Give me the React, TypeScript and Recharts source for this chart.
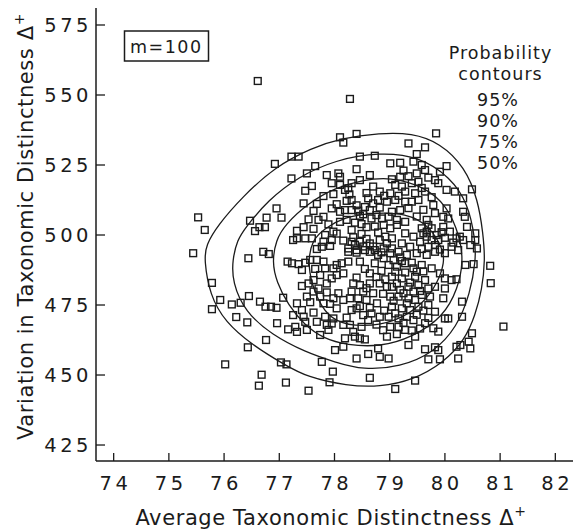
import { ComposedChart, XAxis, YAxis, Scatter, Line } from "recharts"

type Pt = [number, number]

const xTicks = [74, 75, 76, 77, 78, 79, 80, 81, 82]
const yTicks = [425, 450, 475, 500, 525, 550, 575]
const contourLevels = ["95%", "90%", "75%", "50%"]

const upperLeft: Pt[] = [
  [78.16, 533.0], [77.35, 528.0], [77.22, 528.0], [78.46, 528.0], [78.73, 528.3], [77.65, 524.6], [78.40, 523.5], [78.07, 522.0], [78.10, 520.8], [77.22, 520.2],
  [78.64, 521.4], [78.46, 519.6], [78.31, 518.5], [78.25, 516.7], [77.59, 517.5], [78.70, 517.3], [78.19, 516.1], [78.82, 515.5], [77.80, 513.9], [78.31, 512.5],
  [78.22, 512.2], [78.61, 513.1], [78.70, 511.3], [78.79, 512.5], [77.44, 511.3], [77.68, 511.1], [77.95, 509.5], [78.10, 508.3], [78.19, 508.9], [78.31, 508.9],
  [78.43, 508.7], [78.64, 508.9], [78.76, 507.1], [78.67, 505.9], [78.86, 505.9], [77.80, 506.5], [77.71, 505.4], [78.46, 506.8], [78.10, 504.7], [78.22, 505.4],
  [77.53, 505.6], [77.44, 502.8], [78.31, 501.8], [78.58, 502.8], [78.73, 503.0], [78.89, 503.6], [77.32, 501.5], [77.98, 501.2], [77.83, 500.0], [77.32, 498.8],
  [77.47, 498.8], [77.59, 498.8], [77.80, 497.6], [77.95, 498.2], [77.92, 496.1], [77.77, 495.8], [78.31, 497.6], [78.46, 497.6], [78.64, 497.0], [78.82, 498.2],
  [78.92, 499.4], [78.25, 495.2], [78.40, 494.6], [78.55, 494.6], [78.73, 494.6], [78.89, 495.2], [77.25, 498.2],
]

const upperRight: Pt[] = [
  [79.34, 532.7], [79.64, 531.3], [79.49, 528.9], [79.01, 525.6], [79.19, 525.8], [79.43, 526.2], [80.03, 524.6], [79.49, 522.0], [79.64, 523.2], [79.04, 519.9],
  [79.19, 520.8], [79.91, 522.6], [79.82, 519.6], [79.88, 518.5], [79.10, 517.9], [79.40, 518.5], [79.52, 519.0], [80.03, 516.1], [80.18, 515.5], [80.49, 516.3],
  [79.64, 515.5], [79.28, 515.5], [79.46, 514.9], [79.01, 514.9], [80.33, 513.1], [79.79, 510.7], [79.40, 511.9], [79.52, 512.5], [79.28, 511.9], [78.95, 511.9],
  [79.10, 512.5], [80.03, 509.5], [80.33, 508.3], [79.04, 508.3], [79.19, 508.9], [78.98, 506.5], [79.13, 505.4], [79.97, 506.5], [80.06, 505.9], [80.36, 506.5],
  [79.67, 505.4], [79.70, 503.6], [79.28, 504.7], [79.97, 502.9], [80.40, 502.9], [79.01, 502.4], [79.13, 503.6], [79.58, 502.4], [79.67, 501.2], [79.76, 502.4],
  [80.09, 501.2], [79.28, 500.6], [79.43, 499.4], [79.67, 499.4], [79.76, 498.2], [80.55, 500.6], [79.04, 498.8], [79.88, 498.2], [80.21, 498.8], [80.33, 498.2],
  [80.55, 498.2], [79.22, 497.0], [79.37, 495.8], [79.55, 497.6], [79.70, 495.8], [79.82, 496.4], [80.12, 495.8], [80.46, 496.4], [79.04, 495.2], [80.58, 495.2],
]

const lowerLeft: Pt[] = [
  [78.25, 494.0], [78.40, 493.7], [78.64, 494.0], [78.79, 492.9], [77.23, 489.9], [77.35, 489.6], [77.47, 490.1], [77.56, 491.1], [77.68, 491.1], [77.80, 490.5],
  [78.04, 489.3], [78.13, 489.9], [78.25, 490.5], [78.46, 490.5], [78.73, 489.9], [78.89, 491.7], [77.83, 488.1], [77.98, 488.1], [78.16, 486.3], [78.04, 485.7],
  [78.64, 486.3], [77.62, 483.9], [77.53, 482.7], [77.86, 482.7], [77.41, 481.8], [78.34, 482.7], [78.46, 482.1], [78.64, 482.7], [78.82, 482.7], [78.95, 481.5],
  [77.71, 480.9], [77.62, 479.8], [78.07, 479.2], [78.31, 479.8], [78.52, 479.8], [78.70, 479.2], [77.74, 478.0], [77.98, 477.4], [78.16, 476.8], [78.28, 477.4],
  [78.43, 477.4], [78.58, 476.8], [77.32, 475.6], [77.80, 475.6], [77.92, 475.4], [78.77, 475.6], [77.41, 473.2], [77.62, 472.3], [78.31, 473.2], [78.40, 473.8],
  [77.25, 471.4], [77.44, 470.8], [77.83, 470.8], [77.98, 470.2], [78.52, 471.4], [78.67, 472.0], [78.82, 470.8], [77.47, 469.0], [77.29, 467.2], [77.86, 467.9],
  [78.16, 467.9], [78.28, 467.9], [78.49, 467.2], [77.50, 466.1], [77.89, 466.1], [77.74, 464.3], [78.37, 463.7], [78.46, 463.1], [78.55, 462.7], [78.19, 463.1],
  [78.01, 458.9], [78.16, 460.1], [78.79, 459.5], [78.40, 455.9], [78.61, 457.5], [78.82, 456.5], [77.77, 454.7],
]

const lowerRight: Pt[] = [
  [79.01, 493.5], [79.16, 494.0], [79.31, 492.9], [79.49, 493.5], [79.67, 492.9], [79.82, 494.0], [80.00, 493.5], [80.37, 489.3], [80.52, 489.6], [78.98, 489.3],
  [79.13, 488.7], [79.28, 489.9], [79.43, 488.1], [79.58, 489.3], [79.76, 488.1], [79.91, 486.3], [80.00, 484.5], [80.12, 483.9], [80.21, 484.2], [79.04, 485.1],
  [79.22, 484.5], [79.46, 485.1], [79.64, 483.9], [79.04, 481.5], [79.19, 480.4], [79.34, 481.5], [79.52, 482.1], [79.70, 480.9], [79.82, 481.5], [80.00, 480.9],
  [79.01, 478.0], [79.16, 478.0], [79.34, 477.4], [79.58, 478.6], [79.73, 478.0], [79.97, 477.4], [80.31, 476.2], [79.04, 474.4], [79.22, 473.8], [79.37, 473.2],
  [79.52, 474.4], [79.70, 475.0], [80.00, 470.2], [80.06, 470.2], [80.31, 470.8], [78.98, 470.8], [79.16, 470.2], [79.31, 470.8], [79.43, 469.6], [79.64, 468.5],
  [79.79, 466.7], [79.88, 465.5], [79.01, 467.2], [79.16, 467.2], [79.28, 466.1], [80.49, 464.9], [78.95, 463.7], [79.46, 463.7], [79.34, 460.7], [80.21, 460.1],
  [80.43, 461.9], [80.46, 459.5], [80.28, 460.7], [79.64, 459.2], [79.82, 459.9], [79.88, 458.9], [79.70, 455.6], [79.91, 455.6], [80.24, 455.9], [78.98, 455.9],
]

// overlapping squares inside the darkest clumps
const denseCore: Pt[] = [
  [78.37, 496.5], [78.52, 495.9], [78.58, 498.6], [78.70, 495.9], [78.95, 497.0], [78.34, 499.2], [78.49, 500.4], [78.79, 500.9], [78.16, 498.0], [78.85, 493.8],
  [79.07, 491.0], [79.22, 490.7], [79.40, 490.1], [79.10, 486.9], [79.28, 486.6], [79.37, 483.0], [79.13, 482.7], [79.49, 486.9], [79.25, 479.2], [79.43, 479.8],
  [79.55, 480.0], [79.07, 476.5], [79.31, 475.6], [79.46, 476.8], [79.61, 487.0], [79.19, 492.0], [79.85, 500.0], [79.94, 501.0], [79.61, 500.6], [80.00, 499.0],
  [79.91, 494.8], [79.58, 495.0], [80.24, 494.6], [80.15, 497.3], [78.40, 510.6], [78.55, 510.0], [78.52, 507.4], [78.37, 504.4], [78.49, 503.9], [78.82, 509.8],
  [78.58, 515.0], [78.90, 514.0], [78.04, 511.0], [78.27, 514.5], [78.55, 487.9], [78.85, 487.2], [78.40, 484.8], [78.76, 485.0], [78.92, 484.2], [78.58, 481.0],
  [78.88, 479.0], [78.46, 474.6], [78.64, 474.0], [78.90, 473.0], [78.22, 470.5], [78.61, 469.6], [78.76, 468.0], [78.88, 466.0], [78.34, 465.4], [79.25, 523.0],
  [79.58, 525.0], [79.34, 521.0], [79.70, 520.5], [79.22, 517.3], [79.58, 516.8], [79.76, 513.5], [79.34, 509.6], [79.61, 509.0], [79.49, 506.6], [79.82, 507.8],
  [79.16, 514.0], [79.10, 472.0], [79.49, 471.5], [79.61, 473.0], [79.82, 472.6], [79.25, 468.6], [79.55, 466.6], [79.40, 465.9], [79.13, 464.6], [79.70, 470.4],
  [77.41, 487.5], [77.65, 487.9], [77.74, 485.7], [77.95, 484.5], [77.50, 478.0], [77.86, 479.5], [77.56, 476.0], [78.04, 473.8], [77.68, 469.0], [77.95, 468.4],
  [77.50, 522.0], [77.86, 521.4], [77.95, 518.5], [77.47, 515.8], [77.98, 514.6], [77.62, 508.6], [77.89, 503.8], [77.62, 502.2], [78.04, 500.5], [77.68, 495.0],
]

const fringe: Pt[] = [
  [78.10, 534.9], [76.92, 525.4], [75.53, 506.3], [75.65, 501.8], [75.44, 493.5], [76.47, 505.1], [76.77, 506.2], [76.95, 509.5], [77.04, 506.2], [76.64, 502.8],
  [76.74, 502.8], [76.56, 501.4], [76.71, 494.0], [76.81, 493.2], [76.44, 491.7], [78.10, 517.9], [77.15, 490.5], [75.78, 482.9], [75.93, 476.8], [75.78, 473.5],
  [76.14, 475.2], [76.30, 475.8], [76.45, 478.2], [76.65, 476.2], [76.75, 474.4], [76.85, 474.4], [76.95, 474.0], [77.07, 477.6], [76.22, 470.7], [76.42, 468.8],
  [76.96, 468.5], [77.16, 466.3], [76.76, 462.5], [76.43, 459.9], [76.02, 453.8], [77.03, 454.5], [77.13, 453.8], [76.68, 450.1], [76.63, 446.2], [77.12, 447.3],
  [77.32, 465.4], [77.97, 451.2], [77.91, 447.4], [77.53, 444.4], [80.82, 489.0], [80.83, 482.8], [81.06, 467.3], [79.46, 448.0], [79.10, 445.0], [78.64, 449.0],
  [78.40, 536.1], [79.84, 536.3], [78.28, 548.6], [76.61, 555.0], [80.27, 499.4],
]

// probability contours, closed loops (the curve closes itself)
const contour95: Pt[] = [
  [75.64, 491.1], [75.67, 496.4], [75.89, 503.6], [76.33, 513.6], [76.92, 524.3], [77.59, 531.1], [78.13, 534.6], [78.82, 536.4], [79.40, 536.4], [79.91, 532.9],
  [80.36, 524.3], [80.60, 512.5], [80.69, 500.7], [80.73, 491.1], [80.67, 480.4], [80.55, 471.4], [80.36, 462.5], [79.97, 454.3], [79.42, 448.2], [78.82, 445.7],
  [78.23, 446.1], [77.50, 449.3], [77.10, 453.6], [76.51, 460.7], [76.02, 468.9], [75.74, 478.6],
]
const contour90: Pt[] = [
  [76.15, 491.1], [76.24, 498.2], [76.38, 502.5], [76.80, 512.5], [77.34, 520.7], [78.01, 526.8], [78.82, 529.6], [79.55, 527.9], [80.09, 520.7], [80.42, 511.4],
  [80.55, 498.2], [80.56, 491.1], [80.46, 479.3], [80.22, 467.1], [79.79, 457.9], [79.19, 452.9], [78.52, 451.8], [78.01, 454.6], [77.47, 458.2], [76.87, 464.3],
  [76.38, 472.5], [76.15, 483.2],
]
const contour75: Pt[] = [
  [76.87, 490.4], [76.94, 498.2], [77.10, 503.6], [77.52, 511.4], [78.01, 516.8], [78.50, 519.6], [79.01, 520.7], [79.60, 517.5], [80.04, 510.7], [80.28, 498.9],
  [80.33, 490.4], [80.24, 481.1], [79.97, 470.7], [79.42, 463.6], [78.82, 460.0], [78.23, 460.7], [77.80, 463.0], [77.45, 468.0], [77.16, 475.0], [76.95, 483.2],
]
const contour50: Pt[] = [
  [77.52, 490.4], [77.59, 498.2], [77.83, 502.5], [78.19, 506.4], [78.64, 507.9], [79.31, 507.9], [79.73, 503.2], [79.97, 494.6], [79.99, 490.4], [79.88, 483.2],
  [79.59, 475.0], [79.10, 468.9], [78.50, 467.1], [78.01, 468.9], [77.75, 474.5], [77.58, 483.0],
]

const rows = (pts: Pt[]) => pts.map(([x, y]) => ({ x, y }))

const samples = rows([...upperLeft, ...upperRight, ...lowerLeft, ...lowerRight, ...denseCore, ...fringe])
const contours = [contour95, contour90, contour75, contour50].map(rows)

const INK = "#1b1b1b"
const FONT = "'DejaVu Sans', sans-serif"

function Square(props: any) {
  const { cx, cy } = props
  if (cx == null || cy == null) return null
  return (
    <rect x={cx - 3.4} y={cy - 3.4} width={6.8} height={6.8} fill="none" stroke={INK} strokeWidth={1.4} />
  )
}

function YTick(props: any) {
  const { x, y, payload } = props
  return (
    <g>
      <line x1={x} x2={x + 9} y1={y} y2={y} stroke={INK} strokeWidth={1.3} />
      <text x={x - 4} y={y + 7} textAnchor="end" fill={INK} fontSize={19.5} letterSpacing={3.5} fontFamily={FONT}>
        {payload.value}
      </text>
    </g>
  )
}

function XTick(props: any) {
  const { x, y, payload } = props
  return (
    <g>
      <line x1={x} x2={x} y1={y} y2={y - 8} stroke={INK} strokeWidth={1.3} />
      <text x={x + 1.8} y={y + 29} textAnchor="middle" fill={INK} fontSize={19.5} letterSpacing={3.5} fontFamily={FONT}>
        {payload.value}
      </text>
    </g>
  )
}

export default function App() {
  return (
    <div style={{ position: "fixed", left: 0, top: 0, width: 575, height: 529, background: "#fff" }}>
      <ComposedChart width={575} height={529} margin={{ top: 8, right: 2, bottom: 0, left: 0 }}>
        <XAxis
          type="number"
          dataKey="x"
          domain={[73.68, 82.32]}
          allowDataOverflow
          ticks={xTicks}
          interval={0}
          height={68}
          tickSize={0}
          tickMargin={0}
          tickLine={false}
          axisLine={{ stroke: INK, strokeWidth: 1.5 }}
          tick={<XTick />}
        />
        <YAxis
          type="number"
          dataKey="y"
          domain={[419.29, 581.07]}
          allowDataOverflow
          ticks={yTicks}
          interval={0}
          width={96}
          tickSize={0}
          tickMargin={0}
          tickLine={false}
          axisLine={{ stroke: INK, strokeWidth: 1.5 }}
          tick={<YTick />}
        />
        {contours.map((c, i) => (
          <Line
            key={contourLevels[i]}
            data={c}
            dataKey="y"
            type="basisClosed"
            stroke={INK}
            strokeWidth={1.3}
            dot={false}
            activeDot={false}
            isAnimationActive={false}
          />
        ))}
        <Scatter data={samples} dataKey="y" shape={<Square />} isAnimationActive={false} />
      </ComposedChart>

      <svg width={575} height={529} style={{ position: "absolute", left: 0, top: 0, pointerEvents: "none" }}>
        <g fill={INK} fontFamily={FONT}>
          <text transform="translate(33,226.5) rotate(-90)" textAnchor="middle" fontSize={21} letterSpacing={0.6}>
            Variation in Taxonomic Distinctness Δ<tspan dy={-9} fontSize={14}>+</tspan>
          </text>
          <text x={331} y={525} textAnchor="middle" fontSize={21} letterSpacing={0.6}>
            Average Taxonomic Distinctness Δ<tspan dy={-9} fontSize={14}>+</tspan>
          </text>
          <rect x={124.5} y={31} width={84} height={30} fill="none" stroke={INK} strokeWidth={1.5} />
          <text x={130} y={52.5} fontSize={17.5} letterSpacing={1.5}>m=100</text>
          <text x={500.5} y={58.5} textAnchor="middle" fontSize={17.5} letterSpacing={1}>Probability</text>
          <text x={500.5} y={80} textAnchor="middle" fontSize={17.5} letterSpacing={1}>contours</text>
          {contourLevels.map((lvl, i) => (
            <text key={lvl} x={477} y={106 + i * 21.1} fontSize={17.5} letterSpacing={1}>
              {lvl}
            </text>
          ))}
        </g>
      </svg>
    </div>
  )
}
